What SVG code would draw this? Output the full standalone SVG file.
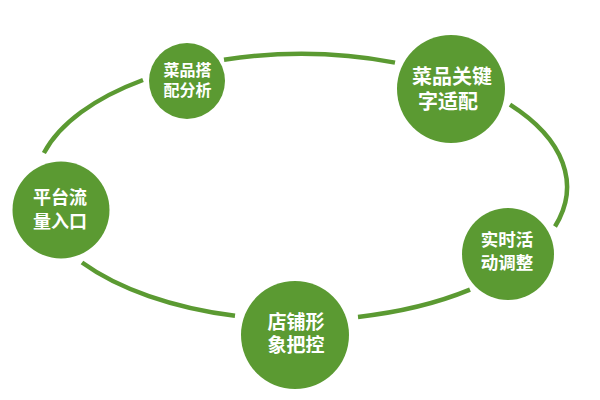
<svg xmlns="http://www.w3.org/2000/svg" width="600" height="400" viewBox="0 0 600 400">
  <style>
    .arc { fill: none; stroke: #5b9a32; stroke-width: 4.5; stroke-linecap: butt; }
    .node { fill: #5b9a32; }
    .label { fill: #ffffff; font-family: "Noto Sans CJK SC", "Noto Sans", sans-serif; font-weight: 700; text-anchor: middle; }
  </style>
  <rect width="600" height="400" fill="#ffffff"/>
  <g id="connectors">
    <path class="arc" d="M43.9,153 A266,133 0 0 1 143,80"/>
    <path class="arc" d="M224,59.7 A266,133 0 0 1 395,62.6"/>
    <path class="arc" d="M510,104.7 A266,133 0 0 1 555,226.5"/>
    <path class="arc" d="M470,289.7 A266,133 0 0 1 358,316.9"/>
    <path class="arc" d="M235,315.8 A266,133 0 0 1 82,262.5"/>
  </g>
  <g id="node-dish-pairing">
    <circle class="node" cx="187" cy="81" r="38"/>
    <text class="label" font-size="16"><tspan x="187.5" y="75.8">菜品搭</tspan><tspan x="187.5" y="95.8">配分析</tspan></text>
  </g>
  <g id="node-keyword">
    <circle class="node" cx="451" cy="89" r="54"/>
    <text class="label" font-size="20"><tspan x="452" y="84">菜品关键</tspan><tspan x="448" y="109">字适配</tspan></text>
  </g>
  <g id="node-platform">
    <circle class="node" cx="61" cy="210" r="48.5"/>
    <text class="label" font-size="18"><tspan x="60" y="203.5">平台流</tspan><tspan x="60" y="227.5">量入口</tspan></text>
  </g>
  <g id="node-store">
    <circle class="node" cx="295" cy="335" r="54"/>
    <text class="label" font-size="19"><tspan x="296" y="329">店铺形</tspan><tspan x="296" y="352">象把控</tspan></text>
  </g>
  <g id="node-activity">
    <circle class="node" cx="508" cy="254" r="46"/>
    <text class="label" font-size="17.5"><tspan x="507" y="246">实时活</tspan><tspan x="507" y="269">动调整</tspan></text>
  </g>
</svg>
